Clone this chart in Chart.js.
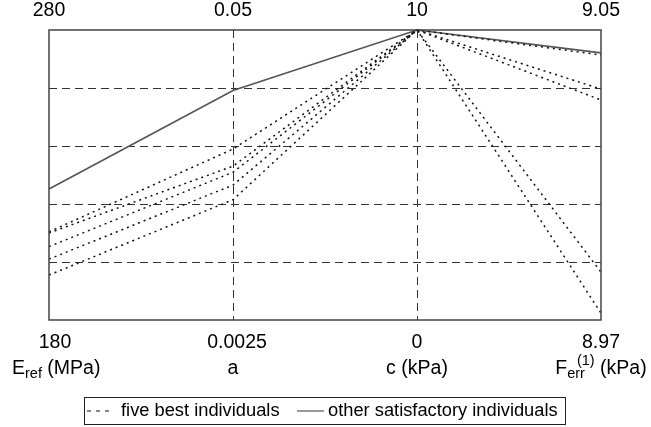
<!DOCTYPE html>
<html>
<head>
<meta charset="utf-8">
<script src="https://cdn.jsdelivr.net/npm/chart.js@4/dist/chart.umd.min.js"></script>
<style>
  html, body { margin: 0; padding: 0; background: #fff; }
  canvas { display: block; }
</style>
</head>
<body>
<canvas id="chart" width="651" height="427"></canvas>
<script>
// parallel axes: E_ref, a, c, F_err
const axisMin = [180, 0.0025, 0, 8.97];
const axisMax = [280, 0.05, 10, 9.05];
const minLabels = ["180", "0.0025", "0", "8.97"];
const maxLabels = ["280", "0.05", "10", "9.05"];

// five best individuals (dotted)
const best1 = [210.4, 0.0305, 10, 9.0431];
const best2 = [210.0, 0.0277, 10, 8.9832];
const best3 = [205.3, 0.0267, 10, 9.0337];
const best4 = [201.0, 0.0246, 10, 8.9719];
const best5 = [195.5, 0.0222, 10, 9.0307];
// other satisfactory individual (solid)
const other1 = [225.2, 0.0401, 10, 9.0437];

const FONT = '"Liberation Sans", Arial, Helvetica, sans-serif';
const BIG = 19.5, SMALL = 14.5;

function toPoints(vals) {
  return vals.map((v, i) => ({ x: i, y: (v - axisMin[i]) / (axisMax[i] - axisMin[i]) }));
}

function dotted(vals) {
  return {
    data: toPoints(vals),
    borderColor: '#111',
    borderWidth: 1.5,
    borderDash: [2, 4],
    pointRadius: 0,
    tension: 0,
    clip: false
  };
}

const decor = {
  id: 'decor',
  beforeDatasetsDraw(chart) {
    const { ctx, chartArea: ca, scales } = chart;
    ctx.save();
    ctx.strokeStyle = '#333';
    ctx.lineWidth = 1;
    ctx.setLineDash([8, 5]);
    // horizontal grid
    [0.2, 0.4, 0.6, 0.8].forEach(v => {
      const y = Math.round(scales.y.getPixelForValue(v)) + 0.5;
      ctx.beginPath(); ctx.moveTo(ca.left, y); ctx.lineTo(ca.right, y); ctx.stroke();
    });
    // inner vertical axes
    [1, 2].forEach(i => {
      const x = Math.round(scales.x.getPixelForValue(i)) + 0.5;
      ctx.beginPath(); ctx.moveTo(x, ca.top); ctx.lineTo(x, ca.bottom); ctx.stroke();
    });
    ctx.restore();
  },
  afterDraw(chart) {
    const { ctx, chartArea: ca, scales } = chart;
    ctx.save();
    // frame
    ctx.strokeStyle = '#444';
    ctx.lineWidth = 1.5;
    ctx.strokeRect(ca.left, ca.top, ca.right - ca.left, ca.bottom - ca.top);

    ctx.fillStyle = '#000';
    ctx.textBaseline = 'middle';
    ctx.textAlign = 'center';
    ctx.font = BIG + 'px ' + FONT;
    for (let i = 0; i < 4; i++) {
      const x = scales.x.getPixelForValue(i);
      ctx.fillText(maxLabels[i], x, 11);
      ctx.fillText(minLabels[i], x + (i === 0 ? 6 : i === 1 ? 4 : 0), 343);
    }

    // axis names: [text, size, dy, advance]
    const names = [
      [['E', BIG, 0, 1], ['ref', SMALL, 5, 1], [' (MPa)', BIG, 0, 1]],
      [['a', BIG, 0, 1]],
      [['c (kPa)', BIG, 0, 1]],
      [['F', BIG, 0, 1], ['err', SMALL, 5, 0.55], ['(1)', SMALL, -8, 1], [' (kPa)', BIG, 0, 1]]
    ];
    ctx.textAlign = 'left';
    names.forEach((parts, i) => {
      const adv = parts.map(([t, s, dy, a]) => { ctx.font = s + 'px ' + FONT; return ctx.measureText(t).width * a; });
      const w = adv.reduce((p, c) => p + c, 0);
      let x = scales.x.getPixelForValue(i) - w / 2;
      if (i === 0) x = Math.max(x, 12);
      if (i === 3) x = Math.min(x, 651 - 3 - w);
      parts.forEach(([t, s, dy], k) => {
        ctx.font = s + 'px ' + FONT;
        ctx.fillText(t, x, 369 + dy);
        x += adv[k];
      });
    });

    // legend
    const lx = 84, ly = 397, lw = 481, lh = 27;
    ctx.strokeStyle = '#222';
    ctx.lineWidth = 1;
    ctx.setLineDash([]);
    ctx.strokeRect(lx + 0.5, ly + 0.5, lw, lh);
    const my = ly + lh / 2 + 0.5;
    ctx.strokeStyle = '#111';
    ctx.lineWidth = 1.2;
    ctx.setLineDash([4, 5]);
    ctx.beginPath(); ctx.moveTo(87, my); ctx.lineTo(114, my); ctx.stroke();
    ctx.setLineDash([]);
    ctx.strokeStyle = '#555';
    ctx.beginPath(); ctx.moveTo(297, my); ctx.lineTo(324, my); ctx.stroke();
    ctx.font = '18.3px ' + FONT;
    ctx.fillStyle = '#000';
    ctx.fillText('five best individuals', 121, my);
    ctx.fillText('other satisfactory individuals', 328, my);
    ctx.restore();
  }
};

new Chart(document.getElementById('chart'), {
  type: 'line',
  data: {
    datasets: [
      dotted(best1), dotted(best2), dotted(best3), dotted(best4), dotted(best5),
      {
        data: toPoints(other1),
        borderColor: '#555',
        borderWidth: 1.6,
        pointRadius: 0,
        tension: 0,
        clip: false
      }
    ]
  },
  options: {
    responsive: false,
    animation: false,
    layout: { padding: { left: 49, right: 50, top: 30, bottom: 107 } },
    plugins: { legend: { display: false }, tooltip: { enabled: false } },
    scales: {
      x: { type: 'linear', min: 0, max: 3, display: false },
      y: { type: 'linear', min: 0, max: 1, display: false }
    }
  },
  plugins: [decor]
});
</script>
</body>
</html>
